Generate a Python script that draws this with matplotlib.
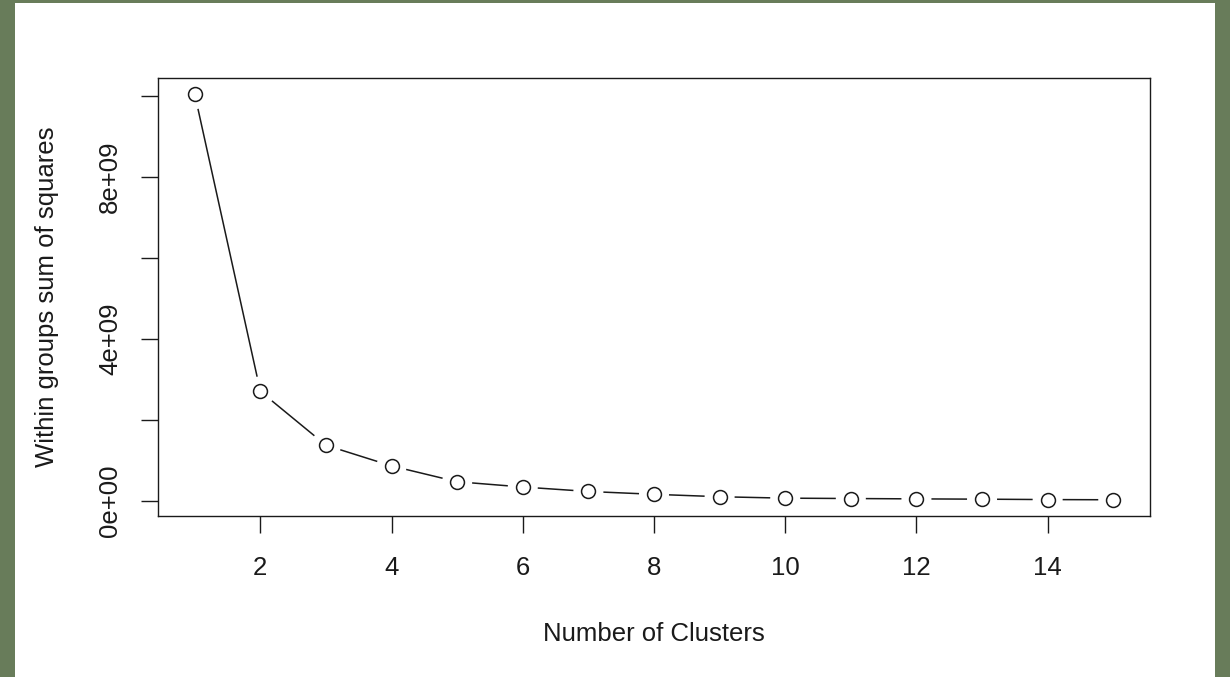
import numpy as np
import matplotlib
matplotlib.use("Agg")
import matplotlib.pyplot as plt
from matplotlib.patches import Rectangle

plt.rcParams['font.family'] = ['Liberation Sans', 'DejaVu Sans']

# number of clusters and within-groups sum of squares
clusters = np.arange(1, 16)
wss = [10.04e9, 2.71e9, 1.38e9, 0.87e9, 0.48e9, 0.35e9, 0.24e9, 0.17e9,
       0.11e9, 0.075e9, 0.066e9, 0.057e9, 0.05e9, 0.04e9, 0.035e9]
xticks = [2, 4, 6, 8, 10, 12, 14]
yticks = [0, 2e9, 4e9, 6e9, 8e9, 1e10]
ytick_labels = ["0e+00", "", "4e+09", "", "8e+09", ""]

fs = 18.5

fig = plt.figure(figsize=(12.3, 6.77), dpi=100)
fig.patch.set_facecolor('#687c5a')
# white panel inside the green frame
fig.patches.append(Rectangle((15 / 1230, 0), 1200 / 1230, 674 / 677,
                             transform=fig.transFigure, facecolor='white',
                             edgecolor='none', zorder=-10))

ax = fig.add_axes([158 / 1230, 161 / 677, 992 / 1230, 438 / 677])
ax.set_facecolor('white')
ax.set_zorder(5)

# R-style axis limits: 4% padding on each side
xr = clusters.max() - clusters.min()
yr = max(wss) - min(wss)
ax.set_xlim(clusters.min() - 0.04 * xr, clusters.max() + 0.04 * xr)
ax.set_ylim(min(wss) - 0.04 * yr, max(wss) + 0.04 * yr)

# type="b": lines with gaps around the points
fig.canvas.draw()
pts = ax.transData.transform(np.column_stack([clusters, wss]))
gap = 15.0
inv = ax.transData.inverted()
for p0, p1 in zip(pts[:-1], pts[1:]):
    d = p1 - p0
    n = np.hypot(*d)
    if n <= 2 * gap:
        continue
    u = d / n
    seg = inv.transform([p0 + u * gap, p1 - u * gap])
    ax.plot(seg[:, 0], seg[:, 1], color='#1a1a1a', lw=1.1, solid_capstyle='butt')

ax.plot(clusters, wss, linestyle='none', marker='o', markersize=10,
        markerfacecolor='white', markeredgecolor='#1a1a1a', markeredgewidth=1.1)

for s in ax.spines.values():
    s.set_linewidth(1.0)
    s.set_color('#1a1a1a')

ax.set_xticks(xticks)
ax.set_xticklabels([str(v) for v in xticks])
ax.set_yticks(yticks)
ax.set_yticklabels(ytick_labels, rotation=90, va='center')
ax.tick_params(axis='both', length=12, width=1.0, color='#1a1a1a',
               labelsize=fs, labelcolor='#1a1a1a')
ax.tick_params(axis='x', pad=17)
ax.tick_params(axis='y', pad=14)

ax.set_xlabel("Number of Clusters", fontsize=fs, color='#1a1a1a', labelpad=30)
ax.set_ylabel("Within groups sum of squares", fontsize=fs, color='#1a1a1a', labelpad=28)

fig.savefig("out.png", dpi=100, facecolor=fig.get_facecolor())
